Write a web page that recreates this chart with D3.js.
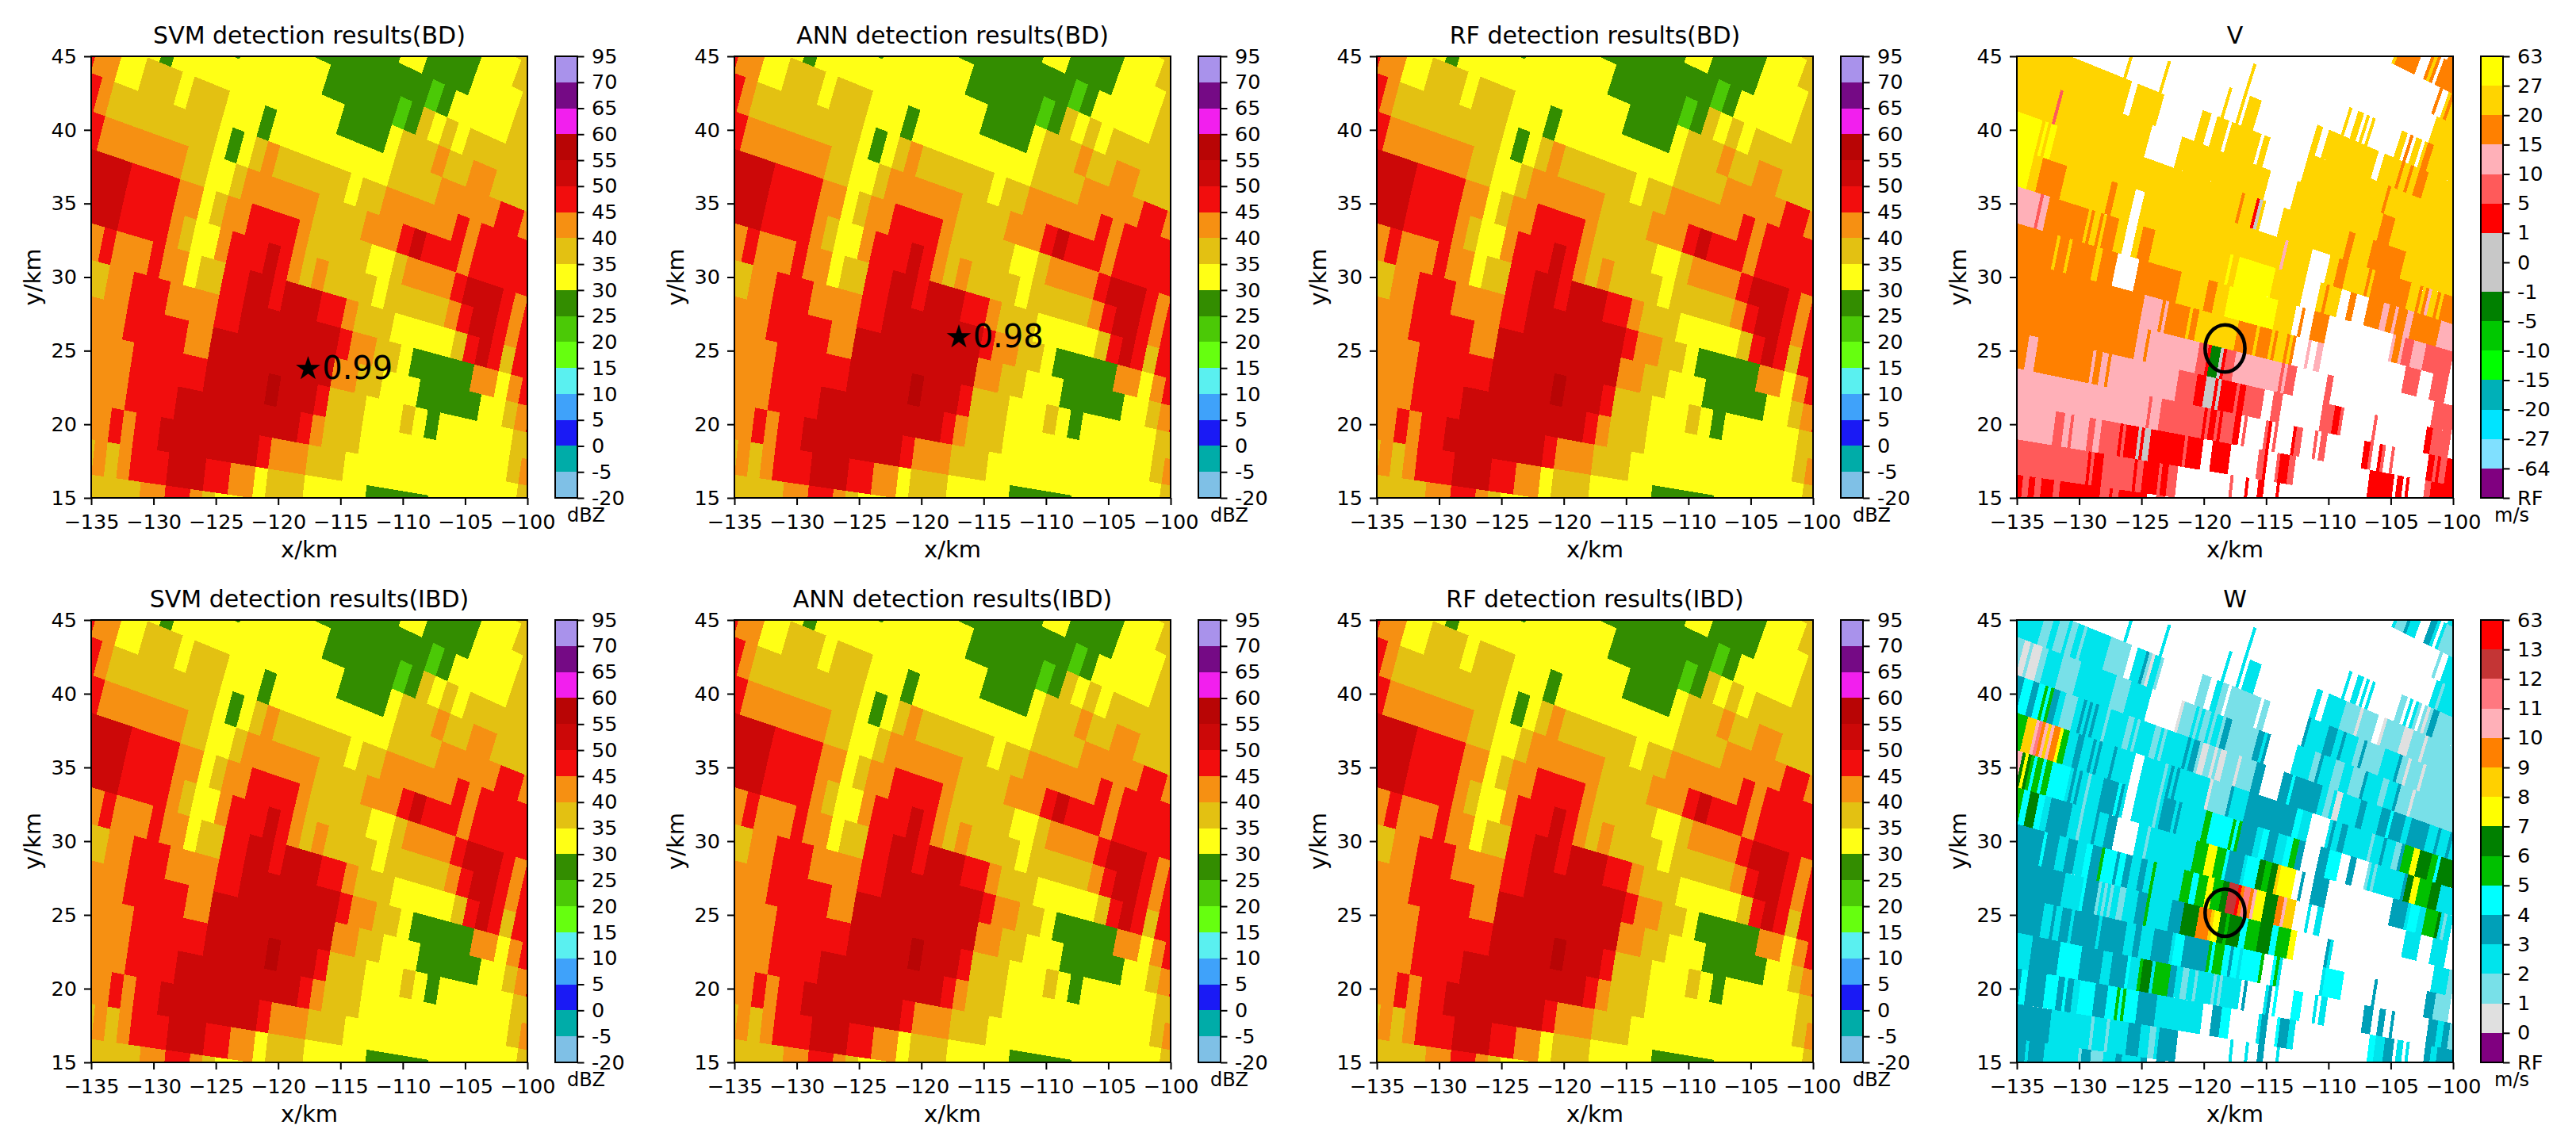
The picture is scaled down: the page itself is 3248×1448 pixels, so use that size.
<!DOCTYPE html>
<html><head><meta charset="utf-8">
<script src="https://cdn.jsdelivr.net/npm/d3@7/dist/d3.min.js"></script>
<style>
html,body{margin:0;padding:0;background:#fff}
svg{display:block}
text{font-family:"DejaVu Sans",sans-serif;fill:#000}
</style></head><body>
<svg id="chart" width="3248" height="1448"></svg>
<script>
// ---------- reflectivity (dBZ): azimuth row, then runs "startRange+code" walking inward in range (km)
const zRows = [
[24,"112o 105."],
[23,"120g 113y 110o 105."],
[22,"123g 119y 117g 113y 109o 105."],
[21,"128y 126g 116l 115g 114y 109o 105."],
[20,"134y 132g 131y 124g 118l 117g 116o 115y 114o 113y 112o 105."],
[19,"140y 137g 136y 122g 118y 117o 114O 113o 111O 109o 104."],
[18,"143R 142O 140y 138o 135y 134o 131y 128g 127y 117o 113O 108R 106O 103."],
[17,"144R 141O 140o 131y 130g 129y 128o 127O 126o 120y 119o 117O 111R 110O 109R 103."],
[16,"143R 140O 133o 131y 129o 128O 122o 118O 115R 114d 113R 110O 109R 103."],
[15,"142d 137R 133O 131y 130o 129O 127R 123O 122o 117y 115o 114O 110R 109d 106R 105O 104R 102."],
[14,"141d 137R 133O 132o 131y 129O 128R 125d 124R 123O 122o 121O 120o 116y 115o 110O 109R 108d 106R 105O 104R 102."],
[13,"140O 138R 137O 134R 133O 131y 130o 128R 126d 124R 123d 120R 118O 117o 114y 109o 108R 107d 106R 105o 104R 102."],
[12,"139o 137O 135R 132O 128R 126d 118R 117O 115o 113y 112g 107O 105y 104O 103R 101."],
[11,"139O 135R 130O 128d 118O 116o 114y 111g 106y 104o 103O 102R 100."],
[10,"138O 134R 128d 123D 122d 119R 118o 115y 112o 111y 110g 109y 103o 100."],
[9,"138O 134R 130d 120R 119O 118o 115y 103o 102O 100."],
[8,"138O 135R 134O 133R 131d 123R 122O 119o 116y 102o 100."],
[7,"137o 136O 135o 134O 133R 130d 127R 125O 123y 122o 119y 114g 109y 100."],
[6,"138o 132O 130R 128O 127o 126y 110."]
];
const zCodes = {g:27,l:22,y:32,o:37,O:42,R:47,d:52,D:57};
const zTicks = ["-20","-5","0","5","10","15","20","25","30","35","40","45","50","55","60","65","70","95"];
const zBreaks = [-20,-5,0,5,10,15,20,25,30,35,40,45,50,55,60,65,70,95];
const zColors = ["#7fc0e6","#00aca8","#1a1af5","#3fa2fa","#5af0f0","#66ff0f","#4bc906","#338d00","#ffff15","#e3c112","#f69012","#f20d0d","#cc0808","#b80505","#f21fee","#750a85","#a992eb"];

// ---------- radial velocity (m/s)
const vRows = [
[24,"110O 105."],
[23,"115_ 114G 113.75O 112_ 111.25O 111G 110.75O 110.5_ 110.25O 108."],
[22,"120_ 109.75O 109.5_ 109G 108.75O 108.5G 105."],
[21,"128_ 109.25G 105."],
[20,"134_ 124.25G 124_ 116G 115.75_ 115.25G 114.75_ 114.5G 114.25_ 114G 113.75_ 111.5G 111_ 110.75O 110.5_ 110.25G 109.75_ 109.5G 109.25O 108.75G 104."],
[19,"137_ 133.75G 133.5_ 130.75G 130.5_ 125.5G 125.25_ 124.25G 124_ 123.75G 122.75_ 118G 117.5_ 117G 112.75_ 112.25G 110.75O 110.5G 110O 109.75G 109.25O 108.5G 104."],
[18,"143G 133_ 132.5G 130.25_ 127G 126.25_ 125.75G 124.75_ 124.5G 122_ 121.75G 121.25_ 118G 111.25O 111G 104."],
[17,"144G 138.25S 138G 130.5_ 128G 120.5_ 118.25G 111O 110G 103."],
[16,"143Y 139G 138.75Y 138.5G 138.25Y 137.75G 122.25O 122G 121R 120.75A 120.5G 120.25_ 118.75G 113.25O 112.75G 111.25O 108.5G 103."],
[15,"143Y 139G 138.25O 136.25G 132.5O 132G 130.5_ 129.75G 118P 117.75G 115.75_ 114.25G 113.5O 112.75G 111O 110.75G 110.5O 107.5G 106.75O 106.5G 106.25O 106P 105.75G 105.25O 105G 104.75O 103."],
[14,"141P 137.75S 137.5P 137O 133.75G 133.5O 133.25G 132.75O 132.5G 132.25O 131.25G 130.5_ 129.75G 129.25O 128.25G 122Y 121.75G 121.25Y 118.25G 115.75_ 114.5G 114O 113.75G 112.75_ 112O 111.5_ 110.5O 109.25P 108.75O 108.25P 108O 107.25P 106.75O 104.5P 103."],
[13,"140O 135.75G 135.5O 134.75G 134.5O 132.5G 132O 130.75_ 129O 125.5G 123.25O 122.5G 121.5Y 117.5G 116_ 115.5O 115.25_ 114.5O 113.25_ 108P 107.75O 107.25P 107S 106.25P 105.25S 103."],
[12,"140O 128P 126.5O 126.25P 126O 124.25G 124O 123.5G 120.25O 118.75G 118.5O 117.5G 117.25O 117G 116.25O 116G 115.75O 115.5_ 114.5P 114.25_ 113.75P 113.25_ 106.5S 105.25_ 104.25S 103."],
[11,"140O 128P 127.25O 127P 123S 122.25R 122N 121.25A 121R 120.75S 120P 116.25S 116P 115.75S 115_ 112.5S 112_ 103.75S 102."],
[10,"139O 136.5P 135.75O 131.25P 131O 130.5P 130O 129.75P 124.25S 122.75R 122A 121.25R 121A 120.75R 119.5S 119.25R 118.75S 117.25_ 116.5S 115.75_ 112.5S 111.5R 111S 110.75_ 108.25S 108_ 104R 103.5S 102."],
[9,"138P 126.25S 126P 125.25S 121.75R 121.5S 121.25R 120.75S 120.5R 120.25S 119.25R 118.75_ 118.5S 118.25_ 116.75S 116.5R 116.25_ 116S 115.75_ 114.5R 114.25S 113.75_ 112.75S 112.5_ 112.25S 111.75_ 108.75R 108.25S 108_ 107.5R 107.25S 107_ 106.5S 106.25_ 103.5R 103S 102.75R 102.5S 102R 101."],
[8,"138P 133.5S 132.75P 132.25S 132P 130.75S 130.25P 129.75S 128.25R 128S 127.75R 126.75A 126.5R 126.25A 125.75R 123S 122.75R 121.5_ 120.75R 119.25_ 117S 116.5R 116.25_ 115.5S 115.25R 114.5S 114_ 108R 106_ 105.75R 105.25_ 105R 104.75_ 103.5S 103R 100."],
[7,"138S 130.5R 130.25S 130R 129.25S 126.75R 126.5S 126R 124.75S 124.5R 124S 123.25_ 119S 118.75_ 117.75R 117.5_ 116.75R 116.25_ 115.25R 115_ 110."],
[6,"138R 135.5S 135R 134.5S 134R 133S 132.5R 129.25S 128.5R 128.25S 127.75R 125.5_ 124.75S 124_ 110."]
];
const vCodes = {Y:30,G:23,O:17,P:12,S:7,R:3,A:0,N:-3};
const vTicks = ["RF","-64","-27","-20","-15","-10","-5","-1","0","1","5","10","15","20","27","63"];
const vBreaks = [-99,-64,-27,-20,-15,-10,-5,-1,0,1,5,10,15,20,27,63];
const vColors = ["#800080","#80e0ff","#00e4ff","#00b0b8","#00ff00","#00c800","#008000","#c8c8c8","#c8c8c8","#ff0000","#ff5a5a","#ffb0b8","#ff8000","#ffd400","#ffff00"];

// ---------- spectrum width (m/s); gates missing from the velocity rows are missing here too
const wRows = [
[24,"110c 105."],
[23,"116c 113.75b 113d 112.75c 111.25d 110.75c 110b 108."],
[22,"124c 109.75b 109.5c 105."],
[21,"128c 108.75b 108.5c 105."],
[20,"135c 111.5b 111c 110b 109.25a 109b 108.75d 108.25b 104."],
[19,"140c 115.5b 114.25a 114b 112.25a 112b 110.5a 109.75b 108.75a 108.5b 104."],
[18,"143c 140.25b 139.5c 139b 138.25c 138b 137.5c 137b 136.75c 134.75b 132.5c 131.75d 131.5b 131.25a 131c 130.5b 126.25c 125.25b 118d 117.75c 116.25d 115.5c 115d 114.75c 113.75b 113.25d 113b 111.5c 110.25d 110b 109.5a 109.25b 108.25a 108b 104."],
[17,"144b 141.25a 140.75b 140.5a 139.75b 139.25c 138b 136.5c 133.5b 132.25c 128a 127.75b 126.75c 126.5b 126.25c 126b 125.5c 125.25b 125c 124.5b 124.25d 123.75b 121.5d 121c 120.75d 120.5c 116.75b 116.25d 116c 115b 114.25c 113.5b 112.5d 112.25c 111b 110.5c 109.75d 109.5b 108.5a 108.25b 103."],
[16,"143d 140.5e 139.75d 139.25e 138.75f 138.5e 138.25f 138d 137.5c 137b 136c 135.5d 135.25c 135d 134.75c 134.5d 134.25c 133.5b 133.25c 131.75b 131.25c 131b 130.75c 129.5b 129c 128.75b 128.5c 126.75d 126.5c 126.25d 125.75b 125.5a 125b 124.5a 124.25b 124a 123.5b 122.5a 122.25b 121d 120c 118.75d 118e 117.75d 115.5c 115b 114.5c 114.25a 113.75c 112.25d 111.75c 110.5d 109.75e 109.5d 108.5c 108d 106.5c 105.75d 105.5c 104.75d 104.5c 103."],
[15,"143f 139.5i 138.75k 138.5l 138.25j 138k 137.75i 137.5k 137.25j 136.75h 136.5f 136c 135.25d 134.75c 134d 133.75c 133.5d 133.25c 132.25d 132c 128b 127.75c 127.5d 127.25c 127d 126.75c 124.25a 124b 122.5d 122.25c 121d 117e 116.5c 114d 113.75c 113.25d 112.75c 110.75b 110.5c 109.75d 109.5c 108.75b 108.25d 108f 107.25h 106.75g 105.75f 105.25e 105g 103."],
[14,"141k 139.25g 139h 138.75g 138.5f 138.25e 138f 137.5e 137.25f 136.75e 135.25c 135d 134.75c 134.5d 134.25c 133.75b 133.5c 132.5d 131.25e 131d 130.75c 128b 127.75c 127.5d 126.5c 126.25d 126c 124f 123.5e 121.75f 121.5e 121.25f 121d 119.75c 119.25e 118.75d 118c 117.25e 116.75f 116.25d 113.75e 112.75c 112d 111.5c 110.5b 110.25c 110b 109.75c 107.5d 107.25g 106.75h 106.25f 105.25g 104.5c 103."],
[13,"140f 138.5e 138g 137.25e 136.75c 136.25d 134.5c 133.75b 133.5c 132.5d 132.25c 131.5d 130.75c 128.25b 128c 124.25f 123.25h 122.5f 121.75e 121.5d 120.25c 120e 119g 118.5f 118g 117.5i 117.25h 116d 113.25c 108d 106.75c 106.5e 105.75c 105.25f 104.25g 104c 103.75b 103.5c 102."],
[12,"140d 136.25e 136d 135c 134.25d 133.5c 132.75e 132.25d 131.5f 131.25e 130.25d 130e 129.5d 129c 128.25d 127.75c 127.25f 127c 124.75f 124e 123.5f 122.75h 122.25f 121.5g 121m 120.25n 120j 119.75l 119.25j 119k 118.75h 118g 117j 116.5k 116.25i 115.5c 115g 114.75c 114.25d 114c 103b 102."],
[11,"140d 134c 132.5e 132.25d 131.25b 131c 130.75b 130.5c 130.25b 130c 129.5b 129c 128d 127.25f 127c 125.25d 124.25g 123j 122i 121.75h 121.25g 120.75f 120.5g 119.5e 119f 118g 117e 116.5f 115.5h 114.75g 114.5c 112.5d 112.25c 102.5b 101."],
[10,"139d 135.25c 134.5d 134.25c 133.75d 133c 132.75d 130.75c 130.5d 128.5c 127.75d 127.25c 126.25d 124.75c 124.5e 123.75d 121.75f 121.5e 121.25f 120.5e 120d 119.75e 119.25c 119e 117.5f 117.25c 116.5e 116.25f 116c 112.25e 110.75c 108.25d 108c 104d 103.25b 102."],
[9,"138c 135.75d 133.5e 131.75d 130c 129.25d 128e 127.75c 127f 126.75g 126c 125.75f 124.5d 124c 123.5b 123c 122.5b 122.25c 121b 120.75c 120.5b 120.25c 118.75d 118.25c 116.5d 116e 115.75c 114.5e 113.75c 112.5e 112.25c 111d 110.75c 108.75d 107c 106.5d 106c 103.5d 102.75c 102.25d 101.75b 101."],
[8,"138d 136.25e 135.75d 134.25e 133.25d 132.75e 132.5d 132c 131.5e 130.25d 129.25e 128.5f 128.25e 128f 127.75e 126.75d 125.25c 120.75d 120e 119.25c 116.75d 116e 115.25d 114.5c 108e 107.5c 106.75d 105.75c 103.5d 103c 102.5d 100."],
[7,"138d 133.5c 130.25b 130c 129b 128.75c 127.25d 126.25c 125.5b 125c 124.75d 123.25c 116.75d 116.25c 110."],
[6,"138d 135.25c 135d 133.75c 131b 130.75d 130b 129c 128d 127.5c 126d 123."]
];
const wCodes = {a:.5,b:1.5,c:2.5,d:3.5,e:4.5,f:5.5,g:6.5,h:7.5,i:8.5,j:9.5,k:10.5,l:11.5,m:12.5,n:13.5};
const wTicks = ["RF","0","1","2","3","4","5","6","7","8","9","10","11","12","13","63"];
const wBreaks = [-1,0,1,2,3,4,5,6,7,8,9,10,11,12,13,63];
const wColors = ["#800080","#e0e0e0","#78e0e8","#00e4ec","#00a0b8","#00ffff","#00c000","#008000","#ffff00","#ffd000","#ff8000","#ffb0b8","#ff7880","#c43535","#ff0000"];

const xTicks = [-135,-130,-125,-120,-115,-110,-105,-100];
const yTicks = [15,20,25,30,35,40,45];
const titles = ["SVM detection results(BD)","ANN detection results(BD)","RF detection results(BD)","V",
                "SVM detection results(IBD)","ANN detection results(IBD)","RF detection results(IBD)","W"];
const stars = [[0,-118.75,23.1,"★0.99"],[1,-118.15,25.25,"★0.98"]];
const circles = [[3,-118.3,25.15,1.6],[7,-118.3,25.15,1.6]];

const colLeft = [115,926,1736,2543], rowTop = [71,782], rowBottom = [628,1340], panelW = 550;
const barGap = 35, barW = 28;

const GATE = 0.25;
function expand(rows, codes){
  const out = new Map();
  rows.forEach(([az,s])=>{
    const t = s.trim().split(/\s+/), m = new Map();
    for(let i=0;i<t.length-1;i++){
      const hi = parseFloat(t[i]), code = t[i].slice(-1), lo = parseFloat(t[i+1]);
      if(code==="_") continue;
      for(let r=hi; r>lo+1e-6; r-=GATE) m.set(Math.round(r/GATE), codes[code]);
    }
    out.set(az,m);
  });
  return out;
}
const zGrid = expand(zRows,zCodes), vGrid = expand(vRows,vCodes), wGrid = expand(wRows,wCodes);
wGrid.forEach((m,az)=>{ const v=vGrid.get(az)||new Map(); [...m.keys()].forEach(k=>{ if(!v.has(k)) m.delete(k); }); });

const svg = d3.select("#chart");
const defs = svg.append("defs");

function drawPanel(idx, grid, breaks, colors, ticks, unit){
  const col = idx%4, row = Math.floor(idx/4);
  const L = colLeft[col], T = rowTop[row], B = rowBottom[row], R = L+panelW;
  const x = d3.scaleLinear().domain([-135,-100]).range([L,R]);
  const y = d3.scaleLinear().domain([15,45]).range([B,T]);
  const color = d3.scaleThreshold().domain(breaks.slice(1,-1)).range(colors);
  const g = svg.append("g");
  const id = "clip"+idx;
  defs.append("clipPath").attr("id",id).append("rect").attr("x",L).attr("y",T).attr("width",panelW).attr("height",B-T);
  const cells = g.append("g").attr("clip-path",`url(#${id})`);
  const pt = (r,a)=>{ const t=a*Math.PI/180; return [x(-r*Math.cos(t)), y(r*Math.sin(t))]; };
  const line = d3.line();
  grid.forEach((m,az)=>{
    const keys = [...m.keys()].sort((a,b)=>b-a);
    let i=0;
    while(i<keys.length){
      let j=i; const val=m.get(keys[i]);
      while(j+1<keys.length && keys[j+1]===keys[j]-1 && m.get(keys[j+1])===val) j++;
      const hi=keys[i]*GATE, lo=(keys[j]-1)*GATE, pts=[];
      for(let r=hi;r>=lo-1e-6;r-=1) pts.push(pt(r,az+1));
      pts.push(pt(lo,az+1),pt(lo,az));
      for(let r=lo;r<=hi+1e-6;r+=1) pts.push(pt(r,az));
      pts.push(pt(hi,az));
      cells.append("path").attr("d",line(pts)+"Z").attr("fill",color(val)).attr("shape-rendering","crispEdges");
      i=j+1;
    }
  });
  const styleAxis = a=>{
    a.selectAll("text").style("font-size","25.5px").style("font-family",'"DejaVu Sans",sans-serif');
    a.selectAll("line").attr("stroke","#000").attr("stroke-width",2);
    a.select(".domain").remove();
  };
  g.append("g").attr("transform",`translate(0,${B})`)
    .call(d3.axisBottom(x).tickValues(xTicks).tickSize(9).tickPadding(12)).call(styleAxis);
  g.append("g").attr("transform",`translate(${L},0)`)
    .call(d3.axisLeft(y).tickValues(yTicks).tickFormat(d3.format("d")).tickSize(9).tickPadding(9)).call(styleAxis);
  g.append("rect").attr("x",L).attr("y",T).attr("width",panelW).attr("height",B-T)
    .attr("fill","none").attr("stroke","#000").attr("stroke-width",2);
  g.append("text").attr("x",(L+R)/2).attr("y",T-16).attr("text-anchor","middle").style("font-size","30px").text(titles[idx]);
  g.append("text").attr("x",(L+R)/2).attr("y",B+75).attr("text-anchor","middle").style("font-size","29px").text("x/km");
  g.append("text").attr("transform",`translate(${L-64},${(T+B)/2}) rotate(-90)`).attr("text-anchor","middle").style("font-size","29px").text("y/km");
  const bx = R+barGap;
  const n = colors.length;
  const by = d3.scaleLinear().domain([0,n]).range([B,T]);
  g.append("g").selectAll("rect").data(colors).join("rect")
    .attr("x",bx).attr("width",barW).attr("y",(d,i)=>by(i+1)).attr("height",(d,i)=>by(i)-by(i+1)).attr("fill",d=>d).attr("shape-rendering","crispEdges");
  g.append("g").attr("transform",`translate(${bx+barW},0)`)
    .call(d3.axisRight(by).tickValues(d3.range(n+1)).tickFormat(i=>ticks[i]).tickSize(8.5).tickPadding(9.5)).call(styleAxis);
  g.append("rect").attr("x",bx).attr("y",T).attr("width",barW).attr("height",B-T).attr("fill","none").attr("stroke","#000").attr("stroke-width",2);
  g.append("text").attr("x",bx+barW/2+25).attr("y",B+30).attr("text-anchor","middle").style("font-size","24px").text(unit);
  stars.filter(s=>s[0]===idx).forEach(s=>g.append("text").attr("x",x(s[1])).attr("y",y(s[2])).style("font-size","40px").text(s[3]));
  circles.filter(c=>c[0]===idx).forEach(c=>{
    g.append("ellipse").attr("cx",x(c[1])).attr("cy",y(c[2])).attr("rx",x(c[1]+c[3])-x(c[1])).attr("ry",y(c[2])-y(c[2]+c[3]))
      .attr("fill","none").attr("stroke","#000").attr("stroke-width",4.5);
  });
}
[0,1,2,4,5,6].forEach(i=>drawPanel(i,zGrid,zBreaks,zColors,zTicks,"dBZ"));
drawPanel(3,vGrid,vBreaks,vColors,vTicks,"m/s");
drawPanel(7,wGrid,wBreaks,wColors,wTicks,"m/s");
</script>
</body></html>
